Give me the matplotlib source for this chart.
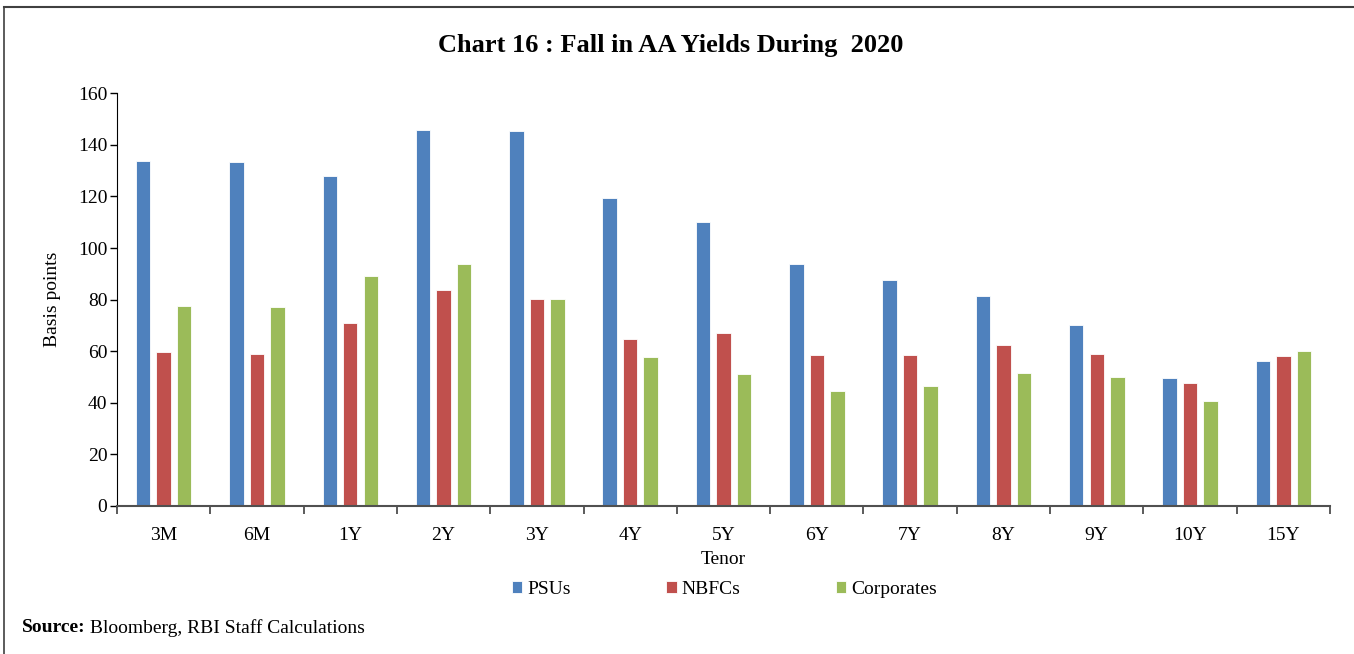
import numpy as np
import matplotlib
matplotlib.use("Agg")
import matplotlib.pyplot as plt
from matplotlib.lines import Line2D

plt.rcParams['font.family'] = ['Liberation Serif', 'DejaVu Serif']

# dados
tenores = ['3M', '6M', '1Y', '2Y', '3Y', '4Y', '5Y', '6Y', '7Y', '8Y', '9Y', '10Y', '15Y']
psus = [133.8, 133.3, 128.1, 145.8, 145.4, 119.5, 110.1, 93.7, 87.7, 81.4, 70.0, 49.6, 56.2]
nbfcs = [59.6, 59.1, 71.0, 83.7, 80.3, 64.6, 67.0, 58.6, 58.6, 62.4, 59.1, 47.6, 58.1]
corporates = [77.6, 77.2, 89.0, 93.8, 80.3, 57.6, 51.0, 44.5, 46.7, 51.4, 50.1, 40.6, 60.2]

cores = ['#4F81BD', '#C0504D', '#9BBB59']

fig = plt.figure(figsize=(13.54, 6.54), dpi=100)
ax = fig.add_axes([0.0864, 0.2263, 0.9823 - 0.0864, 0.8573 - 0.2263])

x = np.arange(len(tenores))
w = 0.155
passo = 0.22
for serie, nome, cor, off in zip([psus, nbfcs, corporates], ['PSUs', 'NBFCs', 'Corporates'],
                                 cores, [-passo, 0, passo]):
    ax.bar(x + off, serie, width=w, color=cor, edgecolor='white', linewidth=0.6, label=nome)

ax.set_xlim(-0.5, len(tenores) - 0.5)
ax.set_ylim(0, 160)
ax.set_yticks(range(0, 161, 20))
ax.set_xticks(x)
ax.set_xticklabels(tenores)
ax.set_xticks(np.arange(-0.5, len(tenores)), minor=True)
ax.tick_params(axis='x', which='major', length=0, labelsize=14, pad=15)
ax.tick_params(axis='x', which='minor', length=6, width=1.2, color='#404040', direction='out')
ax.tick_params(axis='y', length=5, width=1, labelsize=14, pad=2)

for s in ['top', 'right']:
    ax.spines[s].set_visible(False)
ax.spines['left'].set_color('black')
ax.spines['bottom'].set_color('#505050')
ax.spines['bottom'].set_linewidth(1.5)

ax.set_ylabel('Basis points', fontsize=14, labelpad=12)
ax.set_xlabel('Tenor', fontsize=14, labelpad=5)

fig.text(0.495, 0.93, 'Chart 16 : Fall in AA Yields During  2020', ha='center', va='center',
         fontsize=19, fontweight='bold')

fig.legend(loc='center', bbox_to_anchor=(0.535, 0.099), ncol=3, frameon=False, fontsize=14,
           handlelength=0.55, handleheight=0.55, handletextpad=0.25, columnspacing=4.9)

fonte = fig.text(0.016, 0.04, 'Source:', fontsize=14, fontweight='bold', ha='left', va='center')
ax.annotate(' Bloomberg, RBI Staff Calculations', xy=(1, 0.5), xycoords=fonte,
            fontsize=14, ha='left', va='center', annotation_clip=False)

# moldura (só topo e esquerda visíveis)
fig.add_artist(Line2D([0.003, 0.003], [0, 0.989], transform=fig.transFigure, color='#404040', lw=1.2))
fig.add_artist(Line2D([0.003, 1], [0.989, 0.989], transform=fig.transFigure, color='#404040', lw=1.5))

fig.savefig('out.png', dpi=100)
